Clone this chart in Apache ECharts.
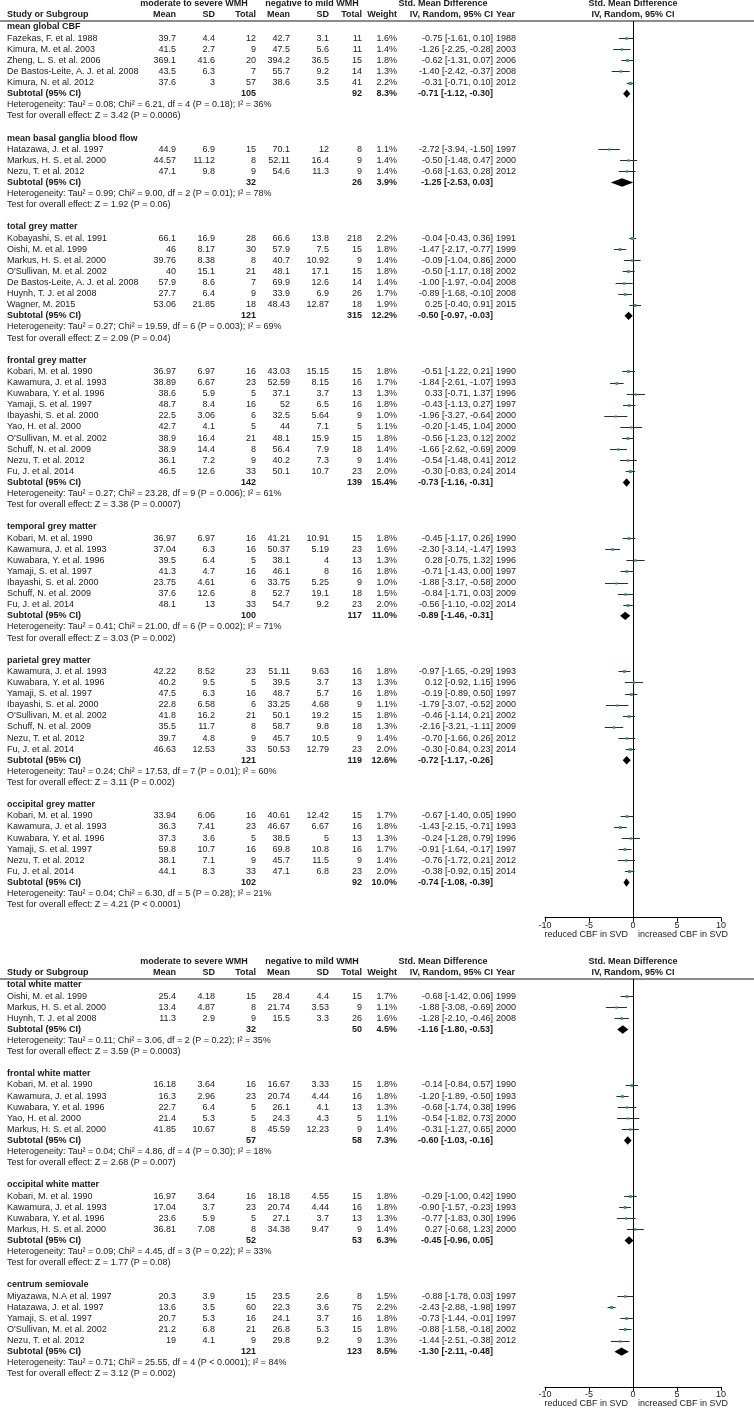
<!DOCTYPE html>
<html><head><meta charset="utf-8">
<script src="https://cdn.jsdelivr.net/npm/echarts@6/dist/echarts.min.js"></script>
<style>html,body{margin:0;padding:0;background:#fff}#c{width:754px;height:1410px}</style>
</head><body><div id="c"></div>
<script>
// ---------------- DATA ----------------
const groupTitles = ["mean global CBF","mean basal ganglia blood flow","total grey matter","frontal grey matter","temporal grey matter","parietal grey matter","occipital grey matter","total white matter","frontal white matter","occipital white matter","centrum semiovale"];
// [study, mean1, sd1, n1, mean2, sd2, n2, weight%, smd, lo, hi, year]
const meanGlobalCBF = [
 ["Fazekas, F. et al. 1988",39.7,4.4,12,42.7,3.1,11,1.6,-0.75,-1.61,0.10,1988],
 ["Kimura, M. et al. 2003",41.5,2.7,9,47.5,5.6,11,1.4,-1.26,-2.25,-0.28,2003],
 ["Zheng, L. S. et al. 2006",369.1,41.6,20,394.2,36.5,15,1.8,-0.62,-1.31,0.07,2006],
 ["De Bastos-Leite, A. J. et al. 2008",43.5,6.3,7,55.7,9.2,14,1.3,-1.40,-2.42,-0.37,2008],
 ["Kimura, N. et al. 2012",37.6,3,57,38.6,3.5,41,2.2,-0.31,-0.71,0.10,2012]];
const meanBasalGanglia = [
 ["Hatazawa, J. et al. 1997",44.9,6.9,15,70.1,12,8,1.1,-2.72,-3.94,-1.50,1997],
 ["Markus, H. S. et al. 2000",44.57,11.12,8,52.11,16.4,9,1.4,-0.50,-1.48,0.47,2000],
 ["Nezu, T. et al. 2012",47.1,9.8,9,54.6,11.3,9,1.4,-0.68,-1.63,0.28,2012]];
const totalGrey = [
 ["Kobayashi, S. et al. 1991",66.1,16.9,28,66.6,13.8,218,2.2,-0.04,-0.43,0.36,1991],
 ["Oishi, M. et al. 1999",46,8.17,30,57.9,7.5,15,1.8,-1.47,-2.17,-0.77,1999],
 ["Markus, H. S. et al. 2000",39.76,8.38,8,40.7,10.92,9,1.4,-0.09,-1.04,0.86,2000],
 ["O'Sullivan, M. et al. 2002",40,15.1,21,48.1,17.1,15,1.8,-0.50,-1.17,0.18,2002],
 ["De Bastos-Leite, A. J. et al. 2008",57.9,8.6,7,69.9,12.6,14,1.4,-1.00,-1.97,-0.04,2008],
 ["Huynh, T. J. et al 2008",27.7,6.4,9,33.9,6.9,26,1.7,-0.89,-1.68,-0.10,2008],
 ["Wagner, M. 2015",53.06,21.85,18,48.43,12.87,18,1.9,0.25,-0.40,0.91,2015]];
const frontalGrey = [
 ["Kobari, M. et al. 1990",36.97,6.97,16,43.03,15.15,15,1.8,-0.51,-1.22,0.21,1990],
 ["Kawamura, J. et al. 1993",38.89,6.67,23,52.59,8.15,16,1.7,-1.84,-2.61,-1.07,1993],
 ["Kuwabara, Y. et al. 1996",38.6,5.9,5,37.1,3.7,13,1.3,0.33,-0.71,1.37,1996],
 ["Yamaji, S. et al. 1997",48.7,8.4,16,52,6.5,16,1.8,-0.43,-1.13,0.27,1997],
 ["Ibayashi, S. et al. 2000",22.5,3.06,6,32.5,5.64,9,1.0,-1.96,-3.27,-0.64,2000],
 ["Yao, H. et al. 2000",42.7,4.1,5,44,7.1,5,1.1,-0.20,-1.45,1.04,2000],
 ["O'Sullivan, M. et al. 2002",38.9,16.4,21,48.1,15.9,15,1.8,-0.56,-1.23,0.12,2002],
 ["Schuff, N. et al. 2009",38.9,14.4,8,56.4,7.9,18,1.4,-1.66,-2.62,-0.69,2009],
 ["Nezu, T. et al. 2012",36.1,7.2,9,40.2,7.3,9,1.4,-0.54,-1.48,0.41,2012],
 ["Fu, J. et al. 2014",46.5,12.6,33,50.1,10.7,23,2.0,-0.30,-0.83,0.24,2014]];
const temporalGrey = [
 ["Kobari, M. et al. 1990",36.97,6.97,16,41.21,10.91,15,1.8,-0.45,-1.17,0.26,1990],
 ["Kawamura, J. et al. 1993",37.04,6.3,16,50.37,5.19,23,1.6,-2.30,-3.14,-1.47,1993],
 ["Kuwabara, Y. et al. 1996",39.5,6.4,5,38.1,4,13,1.3,0.28,-0.75,1.32,1996],
 ["Yamaji, S. et al. 1997",41.3,4.7,16,46.1,8,16,1.8,-0.71,-1.43,0.00,1997],
 ["Ibayashi, S. et al. 2000",23.75,4.61,6,33.75,5.25,9,1.0,-1.88,-3.17,-0.58,2000],
 ["Schuff, N. et al. 2009",37.6,12.6,8,52.7,19.1,18,1.5,-0.84,-1.71,0.03,2009],
 ["Fu, J. et al. 2014",48.1,13,33,54.7,9.2,23,2.0,-0.56,-1.10,-0.02,2014]];
const parietalGrey = [
 ["Kawamura, J. et al. 1993",42.22,8.52,23,51.11,9.63,16,1.8,-0.97,-1.65,-0.29,1993],
 ["Kuwabara, Y. et al. 1996",40.2,9.5,5,39.5,3.7,13,1.3,0.12,-0.92,1.15,1996],
 ["Yamaji, S. et al. 1997",47.5,6.3,16,48.7,5.7,16,1.8,-0.19,-0.89,0.50,1997],
 ["Ibayashi, S. et al. 2000",22.8,6.58,6,33.25,4.68,9,1.1,-1.79,-3.07,-0.52,2000],
 ["O'Sullivan, M. et al. 2002",41.8,16.2,21,50.1,19.2,15,1.8,-0.46,-1.14,0.21,2002],
 ["Schuff, N. et al. 2009",35.5,11.7,8,58.7,9.8,18,1.3,-2.16,-3.21,-1.11,2009],
 ["Nezu, T. et al. 2012",39.7,4.8,9,45.7,10.5,9,1.4,-0.70,-1.66,0.26,2012],
 ["Fu, J. et al. 2014",46.63,12.53,33,50.53,12.79,23,2.0,-0.30,-0.84,0.23,2014]];
const occipitalGrey = [
 ["Kobari, M. et al. 1990",33.94,6.06,16,40.61,12.42,15,1.7,-0.67,-1.40,0.05,1990],
 ["Kawamura, J. et al. 1993",36.3,7.41,23,46.67,6.67,16,1.8,-1.43,-2.15,-0.71,1993],
 ["Kuwabara, Y. et al. 1996",37.3,3.6,5,38.5,5,13,1.3,-0.24,-1.28,0.79,1996],
 ["Yamaji, S. et al. 1997",59.8,10.7,16,69.8,10.8,16,1.7,-0.91,-1.64,-0.17,1997],
 ["Nezu, T. et al. 2012",38.1,7.1,9,45.7,11.5,9,1.4,-0.76,-1.72,0.21,2012],
 ["Fu, J. et al. 2014",44.1,8.3,33,47.1,6.8,23,2.0,-0.38,-0.92,0.15,2014]];
const totalWhite = [
 ["Oishi, M. et al. 1999",25.4,4.18,15,28.4,4.4,15,1.7,-0.68,-1.42,0.06,1999],
 ["Markus, H. S. et al. 2000",13.4,4.87,8,21.74,3.53,9,1.1,-1.88,-3.08,-0.69,2000],
 ["Huynh, T. J. et al 2008",11.3,2.9,9,15.5,3.3,26,1.6,-1.28,-2.10,-0.46,2008]];
const frontalWhite = [
 ["Kobari, M. et al. 1990",16.18,3.64,16,16.67,3.33,15,1.8,-0.14,-0.84,0.57,1990],
 ["Kawamura, J. et al. 1993",16.3,2.96,23,20.74,4.44,16,1.8,-1.20,-1.89,-0.50,1993],
 ["Kuwabara, Y. et al. 1996",22.7,6.4,5,26.1,4.1,13,1.3,-0.68,-1.74,0.38,1996],
 ["Yao, H. et al. 2000",21.4,5.3,5,24.3,4.3,5,1.1,-0.54,-1.82,0.73,2000],
 ["Markus, H. S. et al. 2000",41.85,10.67,8,45.59,12.23,9,1.4,-0.31,-1.27,0.65,2000]];
const occipitalWhite = [
 ["Kobari, M. et al. 1990",16.97,3.64,16,18.18,4.55,15,1.8,-0.29,-1.00,0.42,1990],
 ["Kawamura, J. et al. 1993",17.04,3.7,23,20.74,4.44,16,1.8,-0.90,-1.57,-0.23,1993],
 ["Kuwabara, Y. et al. 1996",23.6,5.9,5,27.1,3.7,13,1.3,-0.77,-1.83,0.30,1996],
 ["Markus, H. S. et al. 2000",36.81,7.08,8,34.38,9.47,9,1.4,0.27,-0.68,1.23,2000]];
const centrumSemiovale = [
 ["Miyazawa, N.A et al. 1997",20.3,3.9,15,23.5,2.6,8,1.5,-0.88,-1.78,0.03,1997],
 ["Hatazawa, J. et al. 1997",13.6,3.5,60,22.3,3.6,75,2.2,-2.43,-2.88,-1.98,1997],
 ["Yamaji, S. et al. 1997",20.7,5.3,16,24.1,3.7,16,1.8,-0.73,-1.44,-0.01,1997],
 ["O'Sullivan, M. et al. 2002",21.2,6.8,21,26.8,5.3,15,1.8,-0.88,-1.58,-0.18,2002],
 ["Nezu, T. et al. 2012",19,4.1,9,29.8,9.2,9,1.3,-1.44,-2.51,-0.38,2012]];
// [total1, total2, weight%, smd, lo, hi]
const subtotals = [
 [105,92,8.3,-0.71,-1.12,-0.30],[32,26,3.9,-1.25,-2.53,0.03],[121,315,12.2,-0.50,-0.97,-0.03],
 [142,139,15.4,-0.73,-1.16,-0.31],[100,117,11.0,-0.89,-1.46,-0.31],[121,119,12.6,-0.72,-1.17,-0.26],
 [102,92,10.0,-0.74,-1.08,-0.39],[32,50,4.5,-1.16,-1.80,-0.53],[57,58,7.3,-0.60,-1.03,-0.16],
 [52,53,6.3,-0.45,-0.96,0.05],[121,123,8.5,-1.30,-2.11,-0.48]];
const heterogeneity = [
 "Tau\u00b2 = 0.08; Chi\u00b2 = 6.21, df = 4 (P = 0.18); I\u00b2 = 36%",
 "Tau\u00b2 = 0.99; Chi\u00b2 = 9.00, df = 2 (P = 0.01); I\u00b2 = 78%",
 "Tau\u00b2 = 0.27; Chi\u00b2 = 19.59, df = 6 (P = 0.003); I\u00b2 = 69%",
 "Tau\u00b2 = 0.27; Chi\u00b2 = 23.28, df = 9 (P = 0.006); I\u00b2 = 61%",
 "Tau\u00b2 = 0.41; Chi\u00b2 = 21.00, df = 6 (P = 0.002); I\u00b2 = 71%",
 "Tau\u00b2 = 0.24; Chi\u00b2 = 17.53, df = 7 (P = 0.01); I\u00b2 = 60%",
 "Tau\u00b2 = 0.04; Chi\u00b2 = 6.30, df = 5 (P = 0.28); I\u00b2 = 21%",
 "Tau\u00b2 = 0.11; Chi\u00b2 = 3.06, df = 2 (P = 0.22); I\u00b2 = 35%",
 "Tau\u00b2 = 0.04; Chi\u00b2 = 4.86, df = 4 (P = 0.30); I\u00b2 = 18%",
 "Tau\u00b2 = 0.09; Chi\u00b2 = 4.45, df = 3 (P = 0.22); I\u00b2 = 33%",
 "Tau\u00b2 = 0.71; Chi\u00b2 = 25.55, df = 4 (P < 0.0001); I\u00b2 = 84%"];
const overallEffect = ["Z = 3.42 (P = 0.0006)","Z = 1.92 (P = 0.06)","Z = 2.09 (P = 0.04)","Z = 3.38 (P = 0.0007)","Z = 3.03 (P = 0.002)","Z = 3.11 (P = 0.002)","Z = 4.21 (P < 0.0001)","Z = 3.59 (P = 0.0003)","Z = 2.68 (P = 0.007)","Z = 1.77 (P = 0.08)","Z = 3.12 (P = 0.002)"];
const headerGroups = ["moderate to severe WMH","negative to mild WMH","Std. Mean Difference","Std. Mean Difference"];
const headerCols = ["Study or Subgroup","Mean","SD","Total","Mean","SD","Total","Weight","IV, Random, 95% CI","Year","IV, Random, 95% CI"];
const xTicks = [-10,-5,0,5,10];
const directionLabels = ["reduced CBF in SVD","increased CBF in SVD"];

// ---------------- LAYOUT ----------------
const groupData = [meanGlobalCBF,meanBasalGanglia,totalGrey,frontalGrey,temporalGrey,parietalGrey,occipitalGrey,totalWhite,frontalWhite,occipitalWhite,centrumSemiovale];
const panels = [{y0:4, groups:[0,1,2,3,4,5,6]},{y0:962, groups:[7,8,9,10]}];
const ROW = 11.11;
const FONT = '"Liberation Sans", Arial, Helvetica, sans-serif';
const FS = 9;
const TXT = '#1a1a1a';
const COL = {name:7, m1:176, s1:215, n1:256, m2:290, s2:329, n2:362, w:397, ci:493, yr:496};
const GRID_LEFT = 545, GRID_W = 176;

function fmtCI(e,l,h){ return e.toFixed(2)+' ['+l.toFixed(2)+', '+h.toFixed(2)+']'; }
function tx(s,x,y,align,bold){
  return {type:'text', style:{text:String(s), x:x, y:y, fill:TXT, fontSize:FS, fontFamily:FONT, fontWeight:bold?'bold':'normal', align:align, verticalAlign:'middle'}};
}

const option = {animation:false, backgroundColor:'#fff', grid:[], xAxis:[], yAxis:[], series:[]};

panels.forEach((P,pi)=>{
  const rows = [];
  P.groups.forEach((g,k)=>{
    if(k>0) rows.push({k:'blank'});
    rows.push({k:'title', s:groupTitles[g]});
    groupData[g].forEach(d=>rows.push({k:'study', d:d}));
    rows.push({k:'sub', d:subtotals[g]});
    rows.push({k:'het', s:'Heterogeneity: '+heterogeneity[g]});
    rows.push({k:'test', s:'Test for overall effect: '+overallEffect[g]});
  });
  const rMin = -27/ROW, rMax = (rows.length-1) + 13/ROW;
  const top = P.y0 + 23 + rMin*ROW;
  option.grid.push({left:GRID_LEFT, width:GRID_W, top:top, height:(rMax-rMin)*ROW, outerBoundsMode:'none', containLabel:false});
  option.xAxis.push({type:'value', gridIndex:pi, position:'bottom', min:xTicks[0], max:xTicks[xTicks.length-1], interval:5,
    axisLine:{show:true, onZero:false, lineStyle:{color:'#000', width:1}}, axisTick:{show:true, length:4, lineStyle:{color:'#000'}},
    axisLabel:{show:true, margin:3, fontSize:FS, fontFamily:FONT, color:TXT}, splitLine:{show:false}});
  option.yAxis.push({type:'value', gridIndex:pi, inverse:true, min:rMin, max:rMax, show:false});

  const items = [{k:'h1', r:-23/ROW},{k:'h2', r:-12/ROW},{k:'hl', r:-6/ROW}];
  rows.forEach((r,i)=>{ r.r=i; items.push(r); });
  items.push({k:'dir', r:rMax + 17/ROW});

  option.series.push({type:'custom', xAxisIndex:pi, yAxisIndex:pi, silent:true,
    data: items.map(it=>[0,it.r]),
    renderItem:function(params, api){
      const it = items[params.dataIndex];
      const y = api.coord([0, api.value(1)])[1];
      const x0 = api.coord([0, 0])[0];
      const ch = [];
      if(it.k==='h1'){
        ch.push(tx(headerGroups[0],194,y,'center',true));
        ch.push(tx(headerGroups[1],312,y,'center',true));
        ch.push(tx(headerGroups[2],443,y,'center',true));
        ch.push(tx(headerGroups[3],x0,y,'center',true));
      } else if(it.k==='h2'){
        const xs=[COL.name,COL.m1,COL.s1,COL.n1,COL.m2,COL.s2,COL.n2,COL.w,COL.ci,COL.yr,x0];
        const al=['left','right','right','right','right','right','right','right','right','left','center'];
        headerCols.forEach((h,j)=>ch.push(tx(h,xs[j],y,al[j],true)));
      } else if(it.k==='hl'){
        const yy=Math.round(y);
        ch.push({type:'line', shape:{x1:0,y1:yy,x2:754,y2:yy}, style:{stroke:'#8c8c8c', lineWidth:2}});
      } else if(it.k==='title'){
        ch.push(tx(it.s,COL.name,y,'left',true));
      } else if(it.k==='study'){
        const d=it.d;
        ch.push(tx(d[0],COL.name,y,'left'));
        ch.push(tx(d[1],COL.m1,y,'right'));
        ch.push(tx(d[2],COL.s1,y,'right'));
        ch.push(tx(d[3],COL.n1,y,'right'));
        ch.push(tx(d[4],COL.m2,y,'right'));
        ch.push(tx(d[5],COL.s2,y,'right'));
        ch.push(tx(d[6],COL.n2,y,'right'));
        ch.push(tx(d[7].toFixed(1)+'%',COL.w,y,'right'));
        ch.push(tx(fmtCI(d[8],d[9],d[10]),COL.ci,y,'right'));
        ch.push(tx(d[11],COL.yr,y,'left'));
      } else if(it.k==='sub'){
        const d=it.d;
        ch.push(tx('Subtotal (95% CI)',COL.name,y,'left',true));
        ch.push(tx(d[0],COL.n1,y,'right',true));
        ch.push(tx(d[1],COL.n2,y,'right',true));
        ch.push(tx(d[2].toFixed(1)+'%',COL.w,y,'right',true));
        ch.push(tx(fmtCI(d[3],d[4],d[5]),COL.ci,y,'right',true));
      } else if(it.k==='het' || it.k==='test'){
        ch.push(tx(it.s,COL.name,y,'left'));
      } else if(it.k==='dir'){
        ch.push(tx(directionLabels[0],x0-5,y,'right'));
        ch.push(tx(directionLabels[1],x0+5,y,'left'));
      }
      return {type:'group', children:ch};
    }});

  // zero line
  option.series.push({type:'custom', xAxisIndex:pi, yAxisIndex:pi, silent:true, data:[[0,-6/ROW,rMax]],
    renderItem:function(params, api){
      const a=api.coord([api.value(0),api.value(1)]), b=api.coord([api.value(0),api.value(2)]);
      const x=Math.round(a[0])+0.5;
      return {type:'line', shape:{x1:x,y1:a[1],x2:x,y2:b[1]}, style:{stroke:'#000', lineWidth:1}};
    }});

  // study CIs and squares
  const studyMarks = rows.filter(r=>r.k==='study').map(r=>[r.d[8],r.d[9],r.d[10],r.r,r.d[7]]);
  option.series.push({type:'custom', xAxisIndex:pi, yAxisIndex:pi, silent:true, data:studyMarks,
    renderItem:function(params, api){
      const r=api.value(3);
      const a=api.coord([api.value(1),r]), b=api.coord([api.value(2),r]), e=api.coord([api.value(0),r]);
      const yy=Math.round(a[1])+0.5;
      const sz=1.2+api.value(4)*0.9;
      return {type:'group', children:[
        {type:'line', shape:{x1:a[0],y1:yy,x2:b[0],y2:yy}, style:{stroke:'#2b2b2b', lineWidth:1}},
        {type:'rect', shape:{x:e[0]-sz/2,y:yy-sz/2,width:sz,height:sz}, style:{fill:'#2f9e62'}}
      ]};
    }});

  // subtotal diamonds
  const diamondMarks = rows.filter(r=>r.k==='sub').map(r=>[r.d[3],r.d[4],r.d[5],r.r]);
  option.series.push({type:'custom', xAxisIndex:pi, yAxisIndex:pi, silent:true, data:diamondMarks,
    renderItem:function(params, api){
      const r=api.value(3);
      const a=api.coord([api.value(1),r]), b=api.coord([api.value(2),r]), e=api.coord([api.value(0),r]);
      const h=4.2;
      return {type:'polygon', shape:{points:[[a[0],a[1]],[e[0],e[1]-h],[b[0],b[1]],[e[0],e[1]+h]]}, style:{fill:'#000'}};
    }});
});

const chart = echarts.init(document.getElementById('c'), null, {renderer:'canvas'});
chart.setOption(option);
</script></body></html>
